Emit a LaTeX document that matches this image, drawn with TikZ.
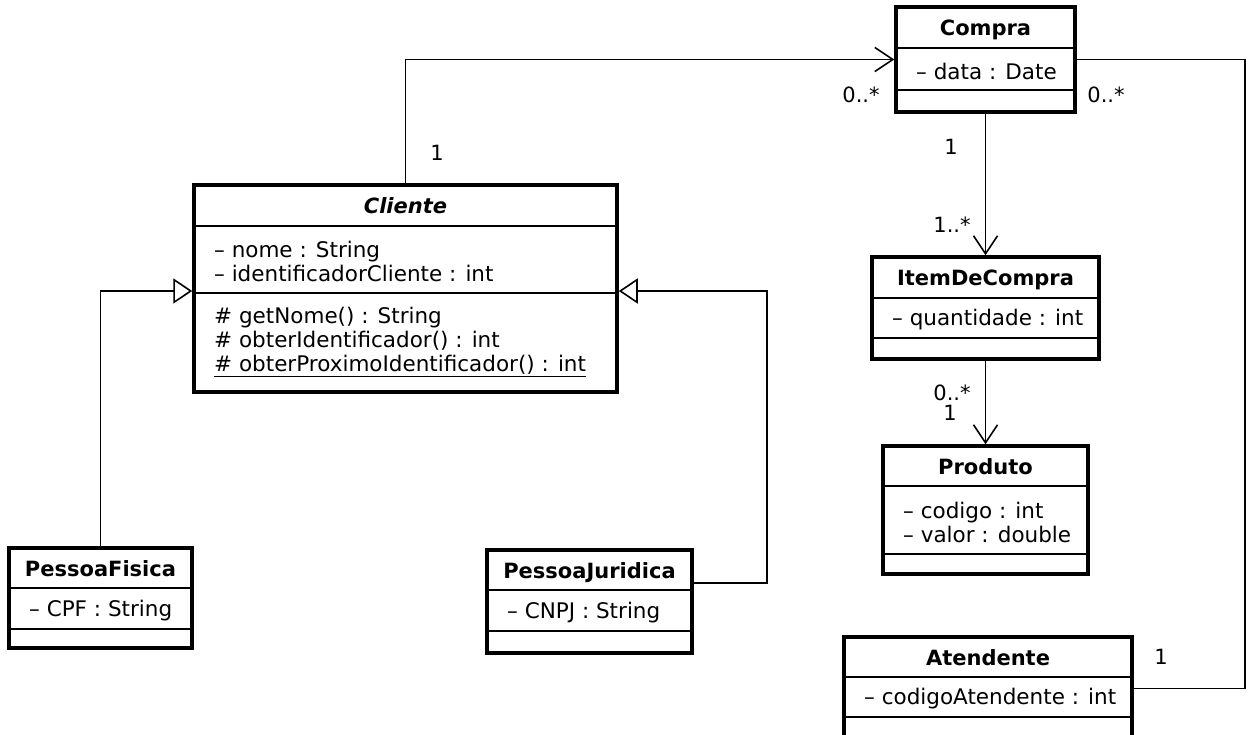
\documentclass[tikz,border=0pt]{standalone}
\usepackage{fontspec}
\setmainfont{DejaVu Sans}
\usetikzlibrary{arrows.meta}
\tikzset{
  classbox/.style={draw, line width=3.5pt, inner sep=0pt, fill=white},
  sepline/.style={line width=1.6pt},
  conn/.style={line width=1.6pt},
  assoc/.style={conn, -{Straight Barb[length=18pt,width=24pt]}},
  gen/.style={conn, -{Triangle[open,length=19pt,width=25pt]}},
  title/.style={font=\bfseries\fontsize{21}{24}\selectfont, inner sep=0pt, text height=15pt, text depth=4pt},
  member/.style={font=\fontsize{21.5}{24}\selectfont, inner sep=0pt, anchor=west, align=left},
  mult/.style={font=\fontsize{21}{24}\selectfont, inner sep=0pt},
}
% name, left, top, right, sep1, sep2, bottom, title, attributes
\newcommand{\umlclass}[9]{%
  \node[classbox, minimum width={(#4)-(#2)}, minimum height={(#7)-(#3)}] (#1) at ({((#2)+(#4))/2},{((#3)+(#7))/2}) {};
  \draw[sepline] (#2,#5) -- (#4,#5);
  \draw[sepline] (#2,#6) -- (#4,#6);
  \node[title] (#1-name) at ({((#2)+(#4))/2},{((#3)+(#5))/2+2.5}) {#8};
  \node[member] (#1-attr) at ({(#2)+20},{((#5)+(#6))/2+2}) {#9};
}
\begin{document}
\begin{tikzpicture}[x=1pt,y=-1pt]
\clip (0,0) rectangle (1249,735);
\fill[white] (0,0) rectangle (1249,735);

\umlclass{Compra}{896}{7}{1075}{48}{90}{112}{Compra}{– data : Date}
\umlclass{Cliente}{194}{185}{617}{226}{293}{392}{\itshape Cliente}{– nome : String\\– identificadorCliente : int}
\node[member] (Cliente-ops) at (214,342) {\# getNome() : String\\\# obterIdentificador() : int\\\underline{\# obterProximoIdentificador() : int}};
\umlclass{Item}{872}{257}{1099}{298}{338}{359}{ItemDeCompra}{– quantidade : int}
\umlclass{Produto}{883}{446}{1088}{486}{554}{574}{Produto}{– codigo : int\\– valor : double}
\umlclass{PF}{9}{548}{192}{588}{629}{648}{PessoaFisica}{– CPF : String}
\umlclass{PJ}{487}{550}{692}{590}{631}{653}{PessoaJuridica}{– CNPJ : String}
\umlclass{Atendente}{844}{637}{1132}{677}{717}{740}{Atendente}{– codigoAtendente : int}

% associations
\draw[assoc] (Cliente.north) |- (Compra.west);
\draw[assoc] (Compra.south) -- (Item.north);
\draw[assoc] (Item.south) -- (Produto.north);
\coordinate (rc) at (1245,59.5);
\draw[conn] (Compra.east) -- (rc) |- (Atendente.east);

% generalizations
\coordinate (gy) at (0,291);
\coordinate (pjc) at (767,583);
\draw[gen] (PF.north) |- (Cliente.west |- gy);
\draw[gen] (PJ.east |- pjc) -- (pjc) |- (Cliente.east |- gy);

% multiplicities
\node[mult] (m1) at (437,153) {1};
\node[mult] (m2) at (861,95) {0..*};
\node[mult] (m3) at (1106,95) {0..*};
\node[mult] (m4) at (951,147) {1};
\node[mult] (m5) at (952,225) {1..*};
\node[mult] (m6) at (952,393) {0..*};
\node[mult] (m7) at (950,413) {1};
\node[mult] (m8) at (1161,657) {1};
\end{tikzpicture}
\end{document}
